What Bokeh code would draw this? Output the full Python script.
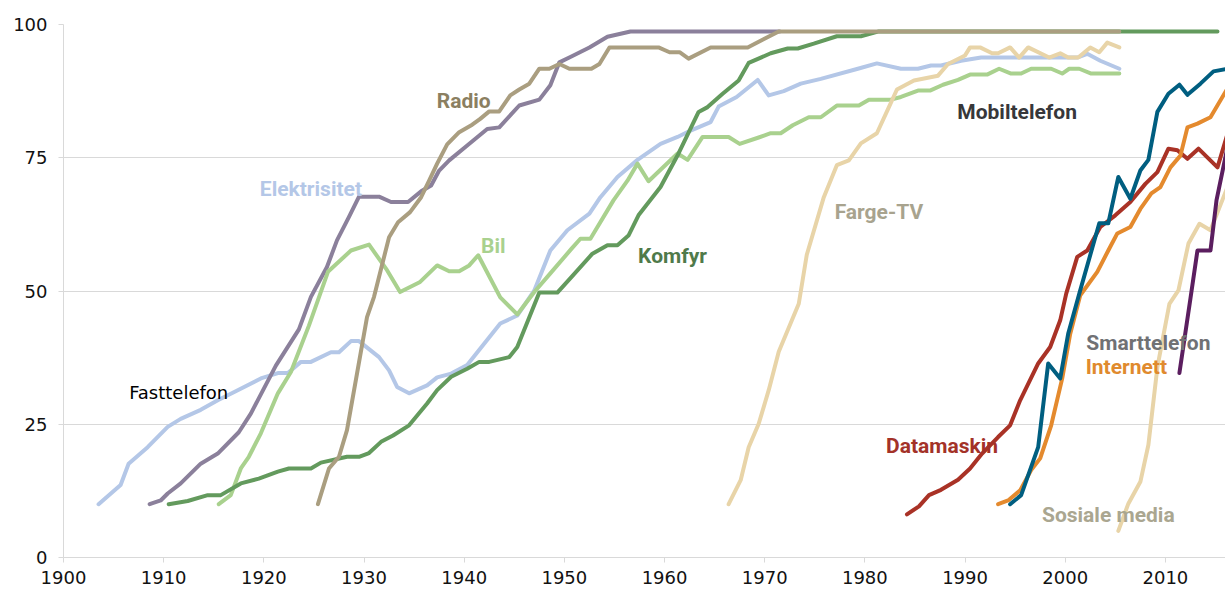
from bokeh.plotting import figure
from bokeh.models import Range1d, FixedTicker, ColumnDataSource
from bokeh.core.properties import value
from bokeh.embed import file_html
from bokeh.resources import INLINE

# ---- data (share of households, %) ----
fasttelefon_x = [1903.5, 1905.7, 1906.5, 1908.4, 1910.4, 1911.7, 1913.7, 1915.4, 1917.0, 1919.7, 1921.4, 1922.4,
                 1923.7, 1924.7, 1926.7, 1927.5, 1928.7, 1929.5, 1931.5, 1932.5, 1933.3, 1934.5, 1936.3, 1937.3,
                 1938.7, 1940.3, 1943.6, 1945.3, 1947.0, 1948.6, 1950.3, 1952.5, 1953.6, 1955.3, 1957.3, 1959.6,
                 1961.3, 1962.6, 1964.6, 1965.4, 1967.2, 1969.3, 1970.4, 1971.9, 1973.6, 1975.6, 1979.3, 1981.2,
                 1983.6, 1985.3, 1986.6, 1987.6, 1989.6, 1991.6, 2001.2, 2002.2, 2003.5, 2005.4]
fasttelefon_y = [10, 13.6, 17.6, 20.7, 24.5, 26, 27.7, 29.5, 31, 33.6, 34.6, 34.6,
                 36.7, 36.7, 38.5, 38.5, 40.6, 40.6, 37.6, 35.1, 32, 30.8, 32.3, 33.8,
                 34.5, 36.1, 43.9, 45.4, 50.1, 57.6, 61.4, 64.5, 67.6, 71.4, 74.6, 77.6,
                 78.9, 80.1, 81.7, 84.6, 86.4, 89.6, 86.7, 87.5, 88.9, 89.8, 91.7, 92.7,
                 91.7, 91.7, 92.3, 92.3, 93.2, 93.8, 93.8, 94.5, 93.2, 91.7]

elektrisitet_x = [1908.6, 1909.7, 1910.4, 1911.7, 1913.7, 1915.4, 1917.5, 1918.7, 1921.2, 1923.5, 1924.7, 1926.3,
                  1927.3, 1928.5, 1929.5, 1931.5, 1932.7, 1934.4, 1935.7, 1936.7, 1937.5, 1938.5, 1940.3, 1942.3,
                  1943.5, 1945.5, 1947.5, 1948.6, 1949.5, 1950.7, 1952.5, 1954.3, 1956.6, 1971.5]
elektrisitet_y = [10, 10.7, 12, 13.9, 17.6, 19.5, 23.5, 27, 36, 42.8, 48.9, 54.5,
                  59.5, 63.9, 67.7, 67.7, 66.7, 66.7, 68.7, 69.8, 72.6, 74.5, 77.3, 80.4,
                  80.7, 84.8, 85.9, 88.6, 92.9, 94, 95.7, 97.7, 98.7, 98.7]

bil_x = [1915.5, 1916.7, 1917.7, 1918.5, 1919.7, 1921.4, 1922.7, 1924.5, 1926.4, 1928.7, 1930.5, 1932.3,
         1933.6, 1935.6, 1937.3, 1938.5, 1939.5, 1940.5, 1941.4, 1943.6, 1945.3, 1947.0, 1948.6, 1950.7,
         1951.6, 1952.6, 1954.9, 1956.3, 1957.3, 1958.4, 1961.3, 1962.3, 1963.8, 1966.4, 1967.5, 1969.4,
         1970.6, 1971.6, 1972.8, 1974.4, 1975.6, 1977.2, 1979.4, 1980.4, 1982.6, 1983.6, 1985.3, 1986.5,
         1987.8, 1989.3, 1990.5, 1992.2, 1993.4, 1994.6, 1995.6, 1996.6, 1998.6, 1999.7, 2000.4, 2001.4,
         2002.6, 2005.4]
bil_y = [10, 11.7, 16.7, 18.9, 23.3, 30.8, 34.8, 43.5, 53.6, 57.6, 58.7, 53.9,
         49.8, 51.7, 54.8, 53.7, 53.7, 54.8, 56.7, 48.8, 45.6, 49.8, 53.3, 57.9,
         59.8, 59.8, 67, 70.7, 73.9, 70.6, 75.8, 74.6, 78.9, 78.9, 77.6, 78.8,
         79.6, 79.6, 81.1, 82.6, 82.6, 84.8, 84.8, 85.9, 85.9, 86.4, 87.6, 87.6,
         88.7, 89.6, 90.6, 90.6, 91.7, 90.8, 90.8, 91.7, 91.7, 90.8, 91.7, 91.7,
         90.8, 90.8]

komfyr_x = [1910.5, 1912.4, 1914.4, 1915.7, 1917.7, 1919.5, 1921.4, 1922.5, 1924.7, 1925.7, 1928.3, 1929.5,
            1930.5, 1931.7, 1932.9, 1934.5, 1936.3, 1937.3, 1938.7, 1940.3, 1941.5, 1942.5, 1944.5, 1945.3,
            1947.5, 1949.3, 1950.7, 1952.8, 1954.3, 1955.3, 1956.4, 1957.4, 1959.6, 1961.4, 1963.4, 1964.3,
            1965.8, 1967.4, 1968.4, 1970.6, 1972.3, 1973.3, 1974.9, 1977.2, 1979.6, 1981.4, 2015.2]
komfyr_y = [10, 10.6, 11.7, 11.7, 13.9, 14.8, 16.1, 16.7, 16.7, 17.8, 18.9, 18.9,
            19.6, 21.7, 22.9, 24.8, 28.9, 31.4, 33.9, 35.4, 36.7, 36.7, 37.6, 39.5,
            49.7, 49.7, 52.6, 57, 58.6, 58.6, 60.4, 64.2, 69.5, 75.8, 83.6, 84.5,
            87, 89.5, 92.8, 94.6, 95.5, 95.5, 96.4, 97.8, 97.8, 98.7, 98.7]

radio_x = [1925.4, 1926.5, 1927.5, 1928.3, 1930.3, 1931.0, 1932.5, 1933.4, 1934.6, 1935.7, 1936.5, 1937.3,
           1938.3, 1939.5, 1940.8, 1941.6, 1942.5, 1943.5, 1944.6, 1945.5, 1946.5, 1947.5, 1948.5, 1949.5,
           1950.5, 1952.7, 1953.5, 1954.5, 1959.4, 1960.5, 1961.5, 1962.4, 1964.6, 1968.3, 1971.4, 2005.4]
radio_y = [10, 16.7, 18.9, 23.9, 45.1, 48.9, 60.1, 62.9, 64.8, 67.6, 70.7, 73.9,
           77.5, 79.8, 81.2, 82.3, 83.7, 83.7, 86.7, 87.8, 88.9, 91.7, 91.7, 92.6,
           91.7, 91.7, 92.6, 95.7, 95.7, 94.8, 94.8, 93.6, 95.7, 95.7, 98.7, 98.7]

fargetv_x = [1966.4, 1967.6, 1968.4, 1969.4, 1970.4, 1971.4, 1973.4, 1974.2, 1975.9, 1977.2, 1978.4, 1979.6,
             1981.2, 1982.4, 1983.2, 1984.9, 1987.3, 1988.3, 1990.0, 1990.5, 1991.5, 1992.7, 1993.3, 1994.5,
             1995.4, 1996.3, 1998.4, 1999.5, 2000.3, 2001.3, 2002.5, 2003.4, 2004.2, 2005.4]
fargetv_y = [10, 14.5, 20.7, 25.1, 31.4, 38.6, 47.6, 56.8, 67.6, 73.6, 74.5, 77.7,
             79.6, 84.5, 87.8, 89.5, 90.4, 92.6, 94.2, 95.7, 95.7, 94.6, 94.6, 95.7,
             93.8, 95.7, 93.8, 94.6, 93.8, 93.8, 95.7, 94.8, 96.6, 95.7]

datamaskin_x = [1984.2, 1985.4, 1986.4, 1987.6, 1989.3, 1990.5, 1991.7, 1993.3, 1994.5, 1995.5, 1997.3, 1998.5,
                1999.5, 2000.1, 2001.2, 2002.2, 2003.5, 2005.0, 2006.5, 2008.0, 2009.2, 2010.3, 2011.2, 2012.2,
                2013.3, 2015.2, 2016.2]
datamaskin_y = [8.1, 9.6, 11.7, 12.7, 14.6, 16.7, 19.5, 22.6, 24.8, 29.5, 36.4, 39.5,
                44.5, 49.5, 56.4, 57.6, 62, 64.2, 66.7, 70.1, 72.3, 76.7, 76.4, 74.8,
                76.7, 73.2, 79.5]

internett_x = [1993.3, 1994.3, 1995.5, 1996.6, 1997.5, 1998.6, 1999.7, 2000.5, 2001.5, 2003.2, 2004.3, 2005.2,
               2006.5, 2007.5, 2008.6, 2009.5, 2010.5, 2011.5, 2012.2, 2013.2, 2014.5, 2016.2]
internett_y = [10, 10.7, 12.6, 16.4, 18.6, 24.8, 33.6, 42, 49.2, 53.6, 57.6, 60.8,
               62, 65.4, 68.3, 69.5, 73.2, 75.4, 80.7, 81.4, 82.6, 88]

mobil_x = [1994.5, 1995.6, 1997.3, 1998.3, 1999.5, 2000.3, 2001.4, 2003.4, 2004.3, 2005.3, 2006.5, 2007.5,
           2008.3, 2009.2, 2010.3, 2011.4, 2012.2, 2013.5, 2014.8, 2016.2]
mobil_y = [10, 11.7, 20.7, 36.4, 33.6, 42, 49.5, 62.7, 62.7, 71.4, 67.3, 72.6,
           74.6, 83.6, 87, 88.7, 86.8, 88.9, 91.2, 91.7]

sosiale_x = [2005.3, 2006.3, 2007.5, 2008.3, 2009.2, 2010.4, 2011.3, 2012.3, 2013.4, 2014.5, 2016.2]
sosiale_y = [5, 10.1, 14.2, 21.1, 35.7, 47.6, 50.1, 58.9, 62.6, 61.4, 69.5]

smart_x = [2011.4, 2012.5, 2013.2, 2014.5, 2015.1, 2016.2]
smart_y = [34.6, 48.6, 57.6, 57.6, 67, 77]

x_ticks = [1900, 1910, 1920, 1930, 1940, 1950, 1960, 1970, 1980, 1990, 2000, 2010]
y_ticks = [0, 25, 50, 75, 100]

label_names = ["Radio", "Elektrisitet", "Bil", "Komfyr", "Farge-TV", "Mobiltelefon",
               "Smarttelefon", "Internett", "Datamaskin", "Sosiale media"]
label_x = [1939.95, 1924.7, 1942.9, 1960.8, 1981.4, 1995.2, 2008.3, 2006.1, 1987.7, 2004.3]
label_y = [85.6, 69.2, 58.4, 56.5, 64.9, 83.5, 40.2, 35.7, 20.9, 7.9]
label_colors = ["#8b7f61", "#b4c7e7", "#a9d18e", "#4f7a4a", "#a8a38e", "#37373a",
                "#707174", "#e08a2e", "#a33228", "#aaa690"]

# ---- figure ----
p = figure(width=1225, height=592, output_backend="svg", toolbar_location=None,
           x_range=Range1d(1900, 2016), y_range=Range1d(0, 100),
           min_border_left=63, min_border_right=0, min_border_top=24, min_border_bottom=35)
p.outline_line_color = None
p.background_fill_color = "white"
p.border_fill_color = "white"

p.xgrid.grid_line_color = None
p.ygrid.grid_line_color = "#d9d9d9"
p.ygrid.grid_line_width = 1
p.ygrid.ticker = FixedTicker(ticks=y_ticks)

for ax in (p.xaxis[0], p.yaxis[0]):
    ax.axis_line_color = "#d9d9d9"
    ax.major_tick_line_color = "#d9d9d9"
    ax.minor_tick_line_color = None
    ax.major_tick_in = 0
    ax.major_tick_out = 5
    ax.major_label_text_font = "DejaVu Sans"
    ax.major_label_text_font_size = "18px"
    ax.major_label_text_color = "#111111"

p.xaxis.ticker = FixedTicker(ticks=x_ticks)
p.yaxis.ticker = FixedTicker(ticks=y_ticks)
p.xaxis.major_label_standoff = 8
p.yaxis.major_label_standoff = 11

series = [
    (fasttelefon_x, fasttelefon_y, "#b4c7e7"),
    (elektrisitet_x, elektrisitet_y, "#8b809b"),
    (bil_x, bil_y, "#a9d18e"),
    (komfyr_x, komfyr_y, "#639a5d"),
    (radio_x, radio_y, "#aa9e80"),
    (fargetv_x, fargetv_y, "#e8d4a8"),
    (sosiale_x, sosiale_y, "#e8d4a8"),
    (datamaskin_x, datamaskin_y, "#a93226"),
    (internett_x, internett_y, "#e48a2e"),
    (mobil_x, mobil_y, "#005e80"),
    (smart_x, smart_y, "#5b1e5f"),
]
for xs, ys, c in series:
    p.line(xs, ys, line_color=c, line_width=4, line_cap="round", line_join="round")

src = ColumnDataSource(dict(x=label_x, y=label_y, t=label_names, c=label_colors))
p.text(x="x", y="y", text="t", text_color="c", source=src,
       text_font=value("Roboto"), text_font_style="bold", text_font_size="21px",
       text_align="center", text_baseline="middle")
p.text(x=[1911.5], y=[31.0], text=["Fasttelefon"], text_color="#000000",
       text_font=value("DejaVu Sans"), text_font_size="18px",
       text_align="center", text_baseline="middle")

open("out.html", "w").write(file_html(p, INLINE))
